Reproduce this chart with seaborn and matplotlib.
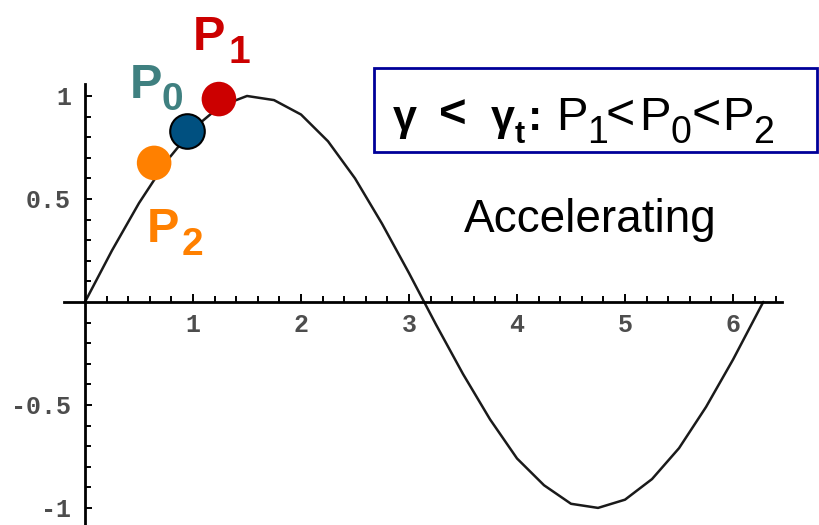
import numpy as np
import matplotlib.pyplot as plt
import matplotlib.patches as patches
import seaborn as sns

# curve values
x_vals = [0, 0.25, 0.5, 0.75, 1.0, 1.25, 1.5, 1.75, 2.0, 2.25, 2.5, 2.75, 3.0,
          3.25, 3.5, 3.75, 4.0, 4.25, 4.5, 4.75, 5.0, 5.25, 5.5, 5.75, 6.0, 6.28]
y_vals = [0, 0.25, 0.48, 0.68, 0.84, 0.95, 1.0, 0.98, 0.91, 0.78, 0.6, 0.38, 0.14,
          -0.11, -0.35, -0.57, -0.76, -0.89, -0.98, -1.0, -0.96, -0.86, -0.71, -0.51, -0.28, 0.0]

# the three marked points
pt_names = ['P2', 'P0', 'P1']
pt_x = [0.64, 0.94, 1.24]
pt_y = [0.675, 0.83, 0.985]
pt_colors = ['#FF8000', '#005080', '#CC0000']
label_colors = ['#FF8000', '#3F8080', '#CC0000']

xtick_vals = [1, 2, 3, 4, 5, 6]
ytick_vals = [-1, -0.5, 0.5, 1]
ytick_labels = ['-1', '-0.5', '0.5', '1']

sns.set_theme(style='white')
plt.rcParams['font.family'] = ['Liberation Sans', 'DejaVu Sans']

W, H = 819, 525
fig = plt.figure(figsize=(W / 100, H / 100), dpi=100)
ax = fig.add_axes([0, 0, 1, 1])
ax.set_facecolor('white')

df = {'x': x_vals, 'y': y_vals}
sns.lineplot(x='x', y='y', data=df, color='#1a1a1a', linewidth=1.8, ax=ax, zorder=2)

for i in range(3):
    ec = 'black' if pt_names[i] == 'P0' else 'none'
    sns.scatterplot(x=[pt_x[i]], y=[pt_y[i]], color=pt_colors[i], s=620,
                    edgecolor=ec, linewidth=1.5, ax=ax, zorder=3)

ax.set_xlim(-0.787, 6.796)
ax.set_ylim(-1.083, 1.466)

# Mathematica-style axes through the origin
for side in ['top', 'right']:
    ax.spines[side].set_visible(False)
ax.spines['left'].set_position(('data', 0))
ax.spines['bottom'].set_position(('data', 0))
ax.spines['bottom'].set_bounds(-0.19, 6.45)
ax.spines['left'].set_bounds(-1.2, 1.06)
for side in ['left', 'bottom']:
    ax.spines[side].set_linewidth(2)
    ax.spines[side].set_color('black')

ax.set_xticks(xtick_vals)
ax.set_xticklabels([str(v) for v in xtick_vals])
ax.set_xticks([v for v in np.arange(0.2, 6.45, 0.2) if abs(v - round(v)) > 0.01], minor=True)
ax.set_yticks(ytick_vals)
ax.set_yticklabels(ytick_labels)
ax.set_yticks([v for v in np.arange(-1.0, 1.05, 0.1) if abs(v * 2 - round(v * 2)) > 0.01], minor=True)

ax.tick_params(axis='both', which='both', direction='in', color='black', width=1.4,
               bottom=True, left=True, top=False, right=False)
ax.tick_params(axis='x', which='major', length=6, pad=8)
ax.tick_params(axis='x', which='minor', length=4)
ax.tick_params(axis='y', which='major', length=5, pad=10)
ax.tick_params(axis='y', which='minor', length=4)
for lab in ax.get_xticklabels() + ax.get_yticklabels():
    lab.set_fontfamily('Liberation Mono')
    lab.set_fontsize(18)
    lab.set_fontweight('bold')
    lab.set_color('#4d4d4d')
ax.set_xlabel('')
ax.set_ylabel('')

# point labels: letter and subscript, offsets in pixels from each point
offsets = {'P2': ((-7, -79), (28, -92)),
           'P0': ((-57, 33), (-25, 21)),
           'P1': ((-26, 49), (10, 36))}
for i, name in enumerate(pt_names):
    (px, py), (sx, sy) = offsets[name]
    ax.annotate('P', (pt_x[i], pt_y[i]), xytext=(px, py), textcoords='offset pixels',
                fontsize=35, fontweight='bold', color=label_colors[i], ha='left', va='baseline')
    ax.annotate(name[1], (pt_x[i], pt_y[i]), xytext=(sx, sy), textcoords='offset pixels',
                fontsize=28, fontweight='bold', color=label_colors[i], ha='left', va='baseline')


def fp(x, y):
    # pixel position from top-left -> figure fraction
    return x / W, 1 - y / H


# framed condition text
fig.add_artist(patches.Rectangle(fp(374, 152), (817 - 374) / W, (152 - 68) / H,
                                 transform=fig.transFigure, fill=False,
                                 edgecolor='#000099', linewidth=2, zorder=5))
runs = [('γ', 393, 130, 31, 'bold'), ('<', 439, 128, 34, 'bold'),
        ('γ', 491, 130, 31, 'bold'), ('t', 515, 143, 22, 'bold'),
        (':', 528, 130, 31, 'bold'),
        ('P', 556, 130, 34, 'normal'), ('1', 587, 143, 27, 'normal'),
        ('<', 606, 129, 36, 'normal'), ('P', 639, 130, 34, 'normal'),
        ('0', 670, 143, 27, 'normal'), ('<', 691, 129, 36, 'normal'),
        ('P', 722, 130, 34, 'normal'), ('2', 753, 143, 27, 'normal')]
for txt, x, y, size, weight in runs:
    fx, fy = fp(x, y)
    fig.text(fx, fy, txt, fontsize=size, fontweight=weight, color='black',
             ha='left', va='baseline')

fx, fy = fp(464, 232)
fig.text(fx, fy, 'Accelerating', fontsize=33, color='black', ha='left', va='baseline')

fig.savefig('out.png', dpi=100)
